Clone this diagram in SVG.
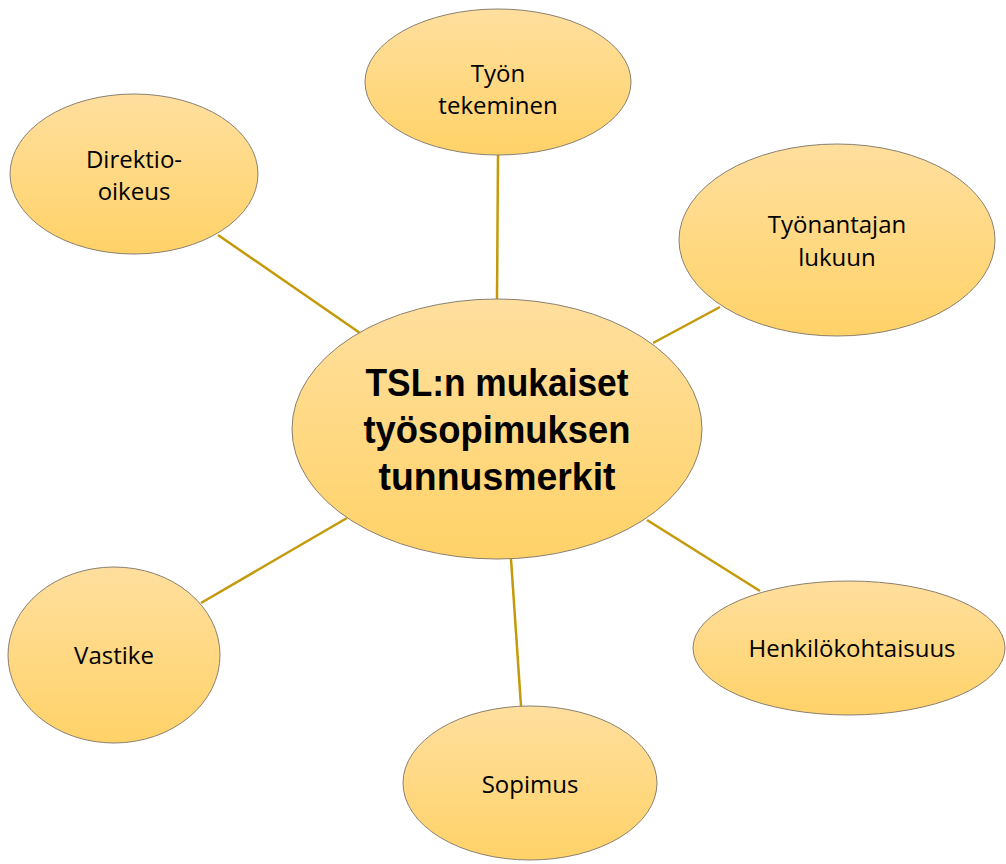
<svg xmlns="http://www.w3.org/2000/svg" width="1006" height="864" viewBox="0 0 1006 864">
<defs>
<linearGradient id="g" x1="0" y1="0" x2="0" y2="1">
<stop offset="0" stop-color="#FFDF9E"/>
<stop offset="1" stop-color="#FFD268"/>
</linearGradient>
<style>
.n{fill:url(#g);stroke:#8a8070;stroke-width:1}
.t{font-family:"Open Sans","Liberation Sans",Arial,sans-serif;font-size:24px;fill:#000;text-anchor:middle}
.b{font-family:"Liberation Sans",Arial,sans-serif;font-size:39px;font-weight:bold;fill:#000;text-anchor:middle}
.c line{stroke:#C49A0A;stroke-width:2.5}
</style>
</defs>
<rect width="1006" height="864" fill="#fff"/>
<g class="c" id="connectors">
<line x1="218" y1="235" x2="360" y2="333"/>
<line x1="498" y1="155" x2="497" y2="299"/>
<line x1="720" y1="307" x2="653" y2="343"/>
<line x1="760" y1="591" x2="647" y2="520"/>
<line x1="511" y1="559" x2="521" y2="706"/>
<line x1="201" y1="603" x2="347" y2="518"/>
</g>
<g id="center">
<ellipse class="n" cx="497" cy="429" rx="205" ry="130"/>
<text class="b" x="497" y="396" textLength="263" lengthAdjust="spacingAndGlyphs">TSL:n mukaiset</text>
<text class="b" x="497" y="443" textLength="267" lengthAdjust="spacingAndGlyphs">työsopimuksen</text>
<text class="b" x="497" y="490" textLength="237" lengthAdjust="spacingAndGlyphs">tunnusmerkit</text>
</g>
<g id="tyon-tekeminen">
<ellipse class="n" cx="498" cy="82" rx="133" ry="73"/>
<text class="t" x="498" y="82">Työn</text>
<text class="t" x="498" y="114">tekeminen</text>
</g>
<g id="direktio-oikeus">
<ellipse class="n" cx="134" cy="174" rx="124" ry="80"/>
<text class="t" x="134" y="168">Direktio-</text>
<text class="t" x="134" y="200">oikeus</text>
</g>
<g id="tyonantajan-lukuun">
<ellipse class="n" cx="837" cy="240" rx="158" ry="96"/>
<text class="t" x="837" y="233">Työnantajan</text>
<text class="t" x="837" y="266">lukuun</text>
</g>
<g id="henkilokohtaisuus">
<ellipse class="n" cx="849" cy="648" rx="156" ry="67"/>
<text class="t" x="852" y="657">Henkilökohtaisuus</text>
</g>
<g id="vastike">
<ellipse class="n" cx="114" cy="655" rx="106" ry="88"/>
<text class="t" x="114" y="664">Vastike</text>
</g>
<g id="sopimus">
<ellipse class="n" cx="530" cy="783" rx="127" ry="77"/>
<text class="t" x="530" y="793">Sopimus</text>
</g>
</svg>
